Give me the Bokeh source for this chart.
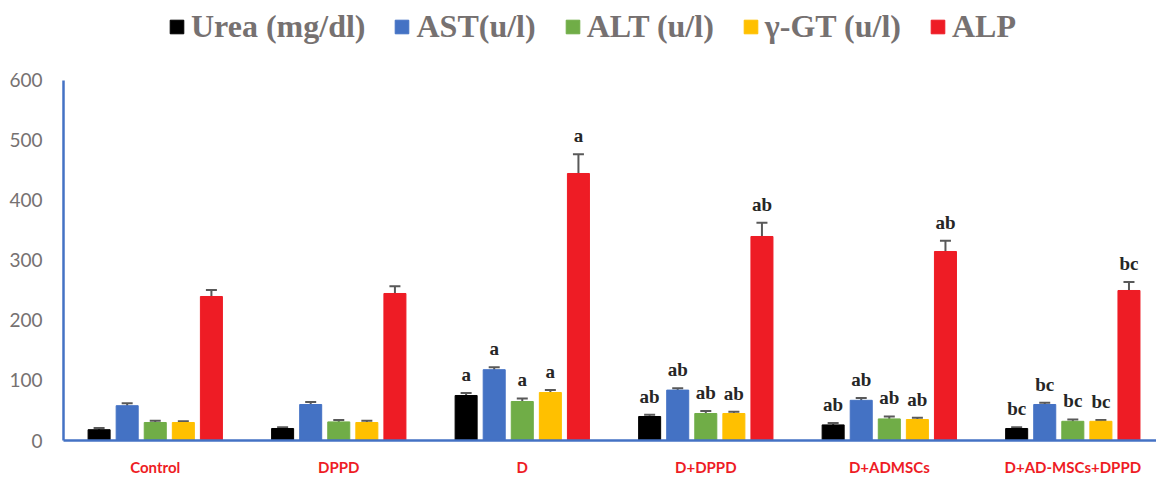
from bokeh.plotting import figure
from bokeh.models import (ColumnDataSource, Range1d, FixedTicker, Whisker, TeeHead,
                          Legend, LegendItem, LabelSet)
from bokeh.embed import file_html
from bokeh.resources import INLINE

# ---- data ----
groups = ["Control", "DPPD", "D", "D+DPPD", "D+ADMSCs", "D+AD-MSCs+DPPD"]
series = ["Urea (mg/dl)", "AST(u/l)", "ALT (u/l)", "\u03b3-GT (u/l)", "ALP"]
colors = ["#000000", "#4472C4", "#70AD47", "#FFC000", "#EE1C25"]

urea = [18, 20, 75, 40, 26, 20]
urea_err = [3, 2, 4, 3, 3, 2]
ast = [58, 60, 118, 84, 67, 60]
ast_err = [4, 4, 4, 3, 4, 3]
alt = [30, 31, 65, 45, 36, 32]
alt_err = [3, 3, 5, 4, 4, 3]
ggt = [30, 30, 80, 45, 35, 32]
ggt_err = [2, 3, 4, 3, 3, 2]
alp = [240, 245, 445, 340, 315, 250]
alp_err = [11, 12, 32, 23, 18, 14]

urea_sig = ["", "", "a", "ab", "ab", "bc"]
ast_sig = ["", "", "a", "ab", "ab", "bc"]
alt_sig = ["", "", "a", "ab", "ab", "bc"]
ggt_sig = ["", "", "a", "ab", "ab", "bc"]
alp_sig = ["", "", "a", "ab", "ab", "bc"]

y_ticks = [0, 100, 200, 300, 400, 500, 600]

values = [urea, ast, alt, ggt, alp]
errors = [urea_err, ast_err, alt_err, ggt_err, alp_err]
sigs = [urea_sig, ast_sig, alt_sig, ggt_sig, alp_sig]

# ---- figure ----
# frame spans the full height; the top band above 600 holds the legend
p = figure(width=1156, height=479, output_backend="svg", toolbar_location=None,
           x_range=Range1d(0, 5.956), y_range=Range1d(0, 733.3),
           min_border_left=63, min_border_right=0, min_border_top=0, min_border_bottom=39)
p.outline_line_color = None
p.xgrid.visible = False
p.ygrid.visible = False
p.background_fill_color = "white"

bar_w = 0.12
step = 0.153
centers = [i + 0.5 for i in range(len(groups))]

legend_items = []
for k, name in enumerate(series):
    xs = [c + (k - 2) * step for c in centers]
    top = values[k]
    err = errors[k]
    src = ColumnDataSource(dict(
        x=xs, top=top,
        upper=[t + e for t, e in zip(top, err)],
        lower=[t - e for t, e in zip(top, err)],
        ly=[t + e + 20 for t, e in zip(top, err)],
        sig=sigs[k],
    ))
    r = p.vbar(x="x", top="top", width=bar_w, bottom=0, source=src,
               fill_color=colors[k], line_color=colors[k], line_width=1)
    legend_items.append(LegendItem(label=name, renderers=[r]))
    w = Whisker(base="x", upper="upper", lower="lower", source=src,
                line_color="#595959", line_width=2,
                upper_head=TeeHead(size=11, line_color="#595959", line_width=2),
                lower_head=TeeHead(size=11, line_color="#595959", line_width=2))
    p.add_layout(w)
    lab = LabelSet(x="x", y="ly", text="sig", source=src,
                   text_align="center", text_baseline="alphabetic",
                   text_font="Liberation Serif", text_font_style="bold",
                   text_font_size="19px", text_color="#262626")
    p.add_layout(lab)

# axes
axis_blue = "#4472C4"
p.yaxis.ticker = FixedTicker(ticks=y_ticks)
p.yaxis.bounds = (0, 600)
p.yaxis.axis_line_color = axis_blue
p.yaxis.axis_line_width = 2.5
p.yaxis.major_tick_line_color = None
p.yaxis.minor_tick_line_color = None
p.yaxis.major_label_text_font = "Lato"
p.yaxis.major_label_text_font_size = "19px"
p.yaxis.major_label_text_color = "#767171"
p.yaxis.major_label_standoff = 15

p.xaxis.ticker = FixedTicker(ticks=centers)
p.xaxis.major_label_overrides = {c: g for c, g in zip(centers, groups)}
p.xaxis.axis_line_color = axis_blue
p.xaxis.axis_line_width = 2.5
p.xaxis.major_tick_line_color = None
p.xaxis.minor_tick_line_color = None
p.xaxis.major_label_text_font = "Lato"
p.xaxis.major_label_text_font_style = "bold"
p.xaxis.major_label_text_font_size = "15px"
p.xaxis.major_label_text_color = "#EE1C25"
p.xaxis.major_label_standoff = 11

legend = Legend(items=legend_items, orientation="horizontal", location=(105, 395),
                label_text_font="Liberation Serif", label_text_font_style="bold",
                label_text_font_size="32px", label_text_color="#767171",
                glyph_width=17, glyph_height=17, label_standoff=6, spacing=28,
                padding=2, margin=0, border_line_color=None, background_fill_alpha=0)
p.add_layout(legend)

open("out.html", "w").write(file_html(p, INLINE))
